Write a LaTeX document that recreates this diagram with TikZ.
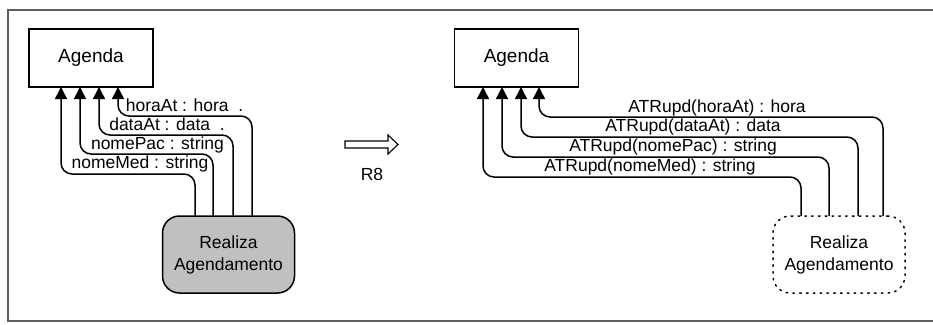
\documentclass[tikz,border=0pt]{standalone}
\usepackage{fontspec}
\setmainfont{Liberation Sans}
\usetikzlibrary{arrows.meta}
\definecolor{boxgray}{HTML}{C0C0C0}
\definecolor{framegray}{HTML}{606060}
\tikzset{
  classbox/.style={draw=black, line width=1.5pt, minimum width=124pt, minimum height=58pt, inner sep=0pt, font=\fontsize{19}{22}\selectfont},
  procbox/.style={draw=black, line width=1.5pt, rounded corners=17pt, minimum width=132pt, minimum height=77pt, inner sep=0pt, align=center, font=\fontsize{17.5}{22}\selectfont},
  flow/.style={line width=1.5pt, rounded corners=11pt, -{Triangle[width=12pt,length=12pt]}},
  lbl/.style={anchor=base, inner sep=0pt, font=\fontsize{17.5}{21}\selectfont},
}
\begin{document}
\begin{tikzpicture}[x=1pt,y=-1pt]
\useasboundingbox (0,0) rectangle (933,324);
% frame
\draw[framegray, line width=1.5pt] (933,10) -- (8,10) -- (8,321) -- (933,321);

% ---------- left diagram ----------
\node[classbox] (agL) at (91,58) {Agenda};
\node[procbox, fill=boxgray] (raL) at (228.5,254.5) {Realiza\\Agendamento};

\coordinate (l1s) at (195,216); \coordinate (l1e) at (61,87);
\coordinate (l2s) at (213,216); \coordinate (l2e) at (80,87);
\coordinate (l3s) at (233,216); \coordinate (l3e) at (99,87);
\coordinate (l4s) at (252,216); \coordinate (l4e) at (118,87);

\draw[flow] (l1s) -- (l1s |- 0,174) -- (l1e |- 0,174) -- (l1e);
\draw[flow] (l2s) -- (l2s |- 0,154) -- (l2e |- 0,154) -- (l2e);
\draw[flow] (l3s) -- (l3s |- 0,135) -- (l3e |- 0,135) -- (l3e);
\draw[flow] (l4s) -- (l4s |- 0,116) -- (l4e |- 0,116) -- (l4e);

\node[lbl] (tl4) at (184.5,111) {horaAt : hora\ \ .};
\node[lbl] (tl3) at (167,130) {dataAt : data\ \ .};
\node[lbl] (tl2) at (157.5,149) {nomePac : string};
\node[lbl] (tl1) at (140,168) {nomeMed : string};

% ---------- transformation arrow ----------
\draw[line width=1.1pt, fill=white] (345,141) -- (388,141) -- (388,135) -- (398,144.5) -- (388,154) -- (388,148) -- (345,148) -- cycle;
\node[lbl] (r8) at (372,180) {R8};

% ---------- right diagram ----------
\node[classbox] (agR) at (516.5,58) {Agenda};
\node[procbox, draw=black, dash pattern=on 1.6pt off 5.2pt, line cap=round] (raR) at (839,254.5) {Realiza\\Agendamento};

\coordinate (r1s) at (801,216); \coordinate (r1e) at (483,87);
\coordinate (r2s) at (829,216); \coordinate (r2e) at (502,87);
\coordinate (r3s) at (858,216); \coordinate (r3e) at (521,87);
\coordinate (r4s) at (883,216); \coordinate (r4e) at (539,87);

\draw[flow] (r1s) -- (r1s |- 0,177) -- (r1e |- 0,177) -- (r1e);
\draw[flow] (r2s) -- (r2s |- 0,157) -- (r2e |- 0,157) -- (r2e);
\draw[flow] (r3s) -- (r3s |- 0,137) -- (r3e |- 0,137) -- (r3e);
\draw[flow] (r4s) -- (r4s |- 0,117) -- (r4e |- 0,117) -- (r4e);

\node[lbl] (tr4) at (717,112) {ATRupd(horaAt) : hora};
\node[lbl] (tr3) at (693,131) {ATRupd(dataAt) : data};
\node[lbl] (tr2) at (673,151) {ATRupd(nomePac) : string};
\node[lbl] (tr1) at (650,171) {ATRupd(nomeMed) : string};
\end{tikzpicture}
\end{document}
